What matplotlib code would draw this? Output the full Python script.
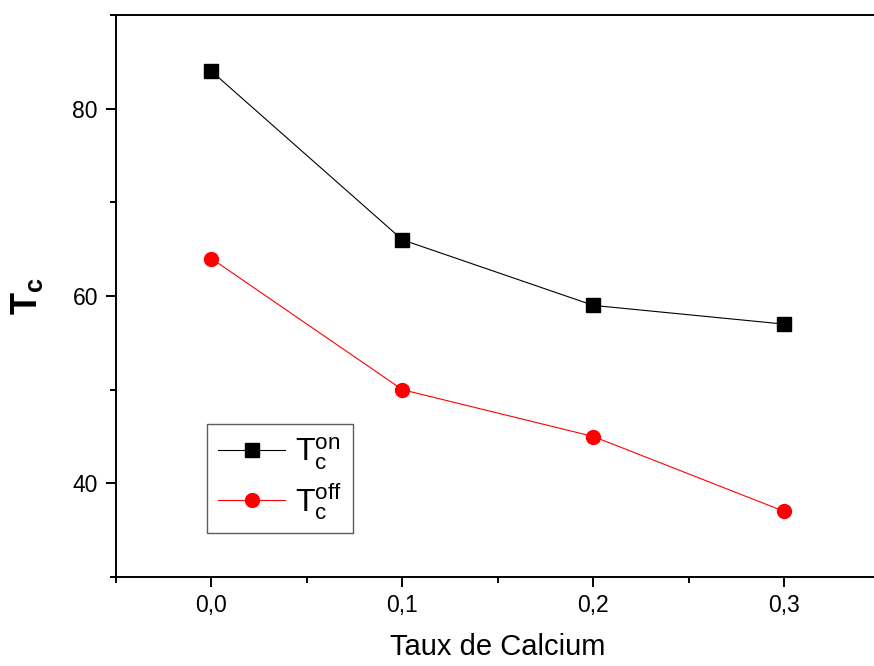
import matplotlib
matplotlib.use('Agg')
import matplotlib.pyplot as plt
from matplotlib.ticker import MultipleLocator

plt.rcParams['font.family'] = ['Liberation Sans', 'DejaVu Sans']
plt.rcParams['mathtext.fontset'] = 'custom'
plt.rcParams['mathtext.rm'] = 'Liberation Sans'
plt.rcParams['mathtext.it'] = 'Liberation Sans'
plt.rcParams['mathtext.bf'] = 'Liberation Sans:bold'

# données
taux = [0.0, 0.1, 0.2, 0.3]
tc_on = [84, 66, 59, 57]
tc_off = [64, 50, 45, 37]
xticks = [0.0, 0.1, 0.2, 0.3]
xtick_labels = ['0,0', '0,1', '0,2', '0,3']
yticks = [40, 60, 80]
ytick_labels = ['40', '60', '80']

fig = plt.figure(figsize=(8.74, 6.66), dpi=100)
ax = fig.add_axes([0.1327, 0.1336, 0.874, 0.8438])

ax.plot(taux, tc_on, color='black', lw=0.8, marker='s', ms=9.5,
        label=r'$\mathrm{T_c^{on}}$')
ax.plot(taux, tc_off, color='red', lw=0.8, marker='o', ms=10,
        label=r'$\mathrm{T_c^{off}}$')

ax.set_xlim(-0.05, 0.35)
ax.set_ylim(30, 90)
ax.set_xticks(xticks)
ax.set_xticklabels(xtick_labels)
ax.set_yticks(yticks)
ax.set_yticklabels(ytick_labels)
ax.xaxis.set_minor_locator(MultipleLocator(0.05))
ax.yaxis.set_minor_locator(MultipleLocator(10))

for s in ax.spines.values():
    s.set_linewidth(1.4)
ax.tick_params(which='major', direction='out', length=7, width=1.4,
               labelsize=16.5)
ax.tick_params(axis='x', which='major', pad=5)
ax.tick_params(axis='y', which='major', pad=6)
ax.tick_params(which='minor', direction='out', length=4, width=1.4)

ax.set_xlabel('Taux de Calcium', fontsize=21, labelpad=12)
ax.set_ylabel(r'$\mathbf{T_c}$', fontsize=26, labelpad=20)

leg = ax.legend(loc='lower left', bbox_to_anchor=(0.119, 0.078),
                borderaxespad=0, fontsize=23, fancybox=False,
                edgecolor='#333333', handlelength=2.1, handletextpad=0.3,
                borderpad=0.35, labelspacing=0.3)
leg.get_frame().set_linewidth(1.0)

fig.savefig('out.png', dpi=100)
